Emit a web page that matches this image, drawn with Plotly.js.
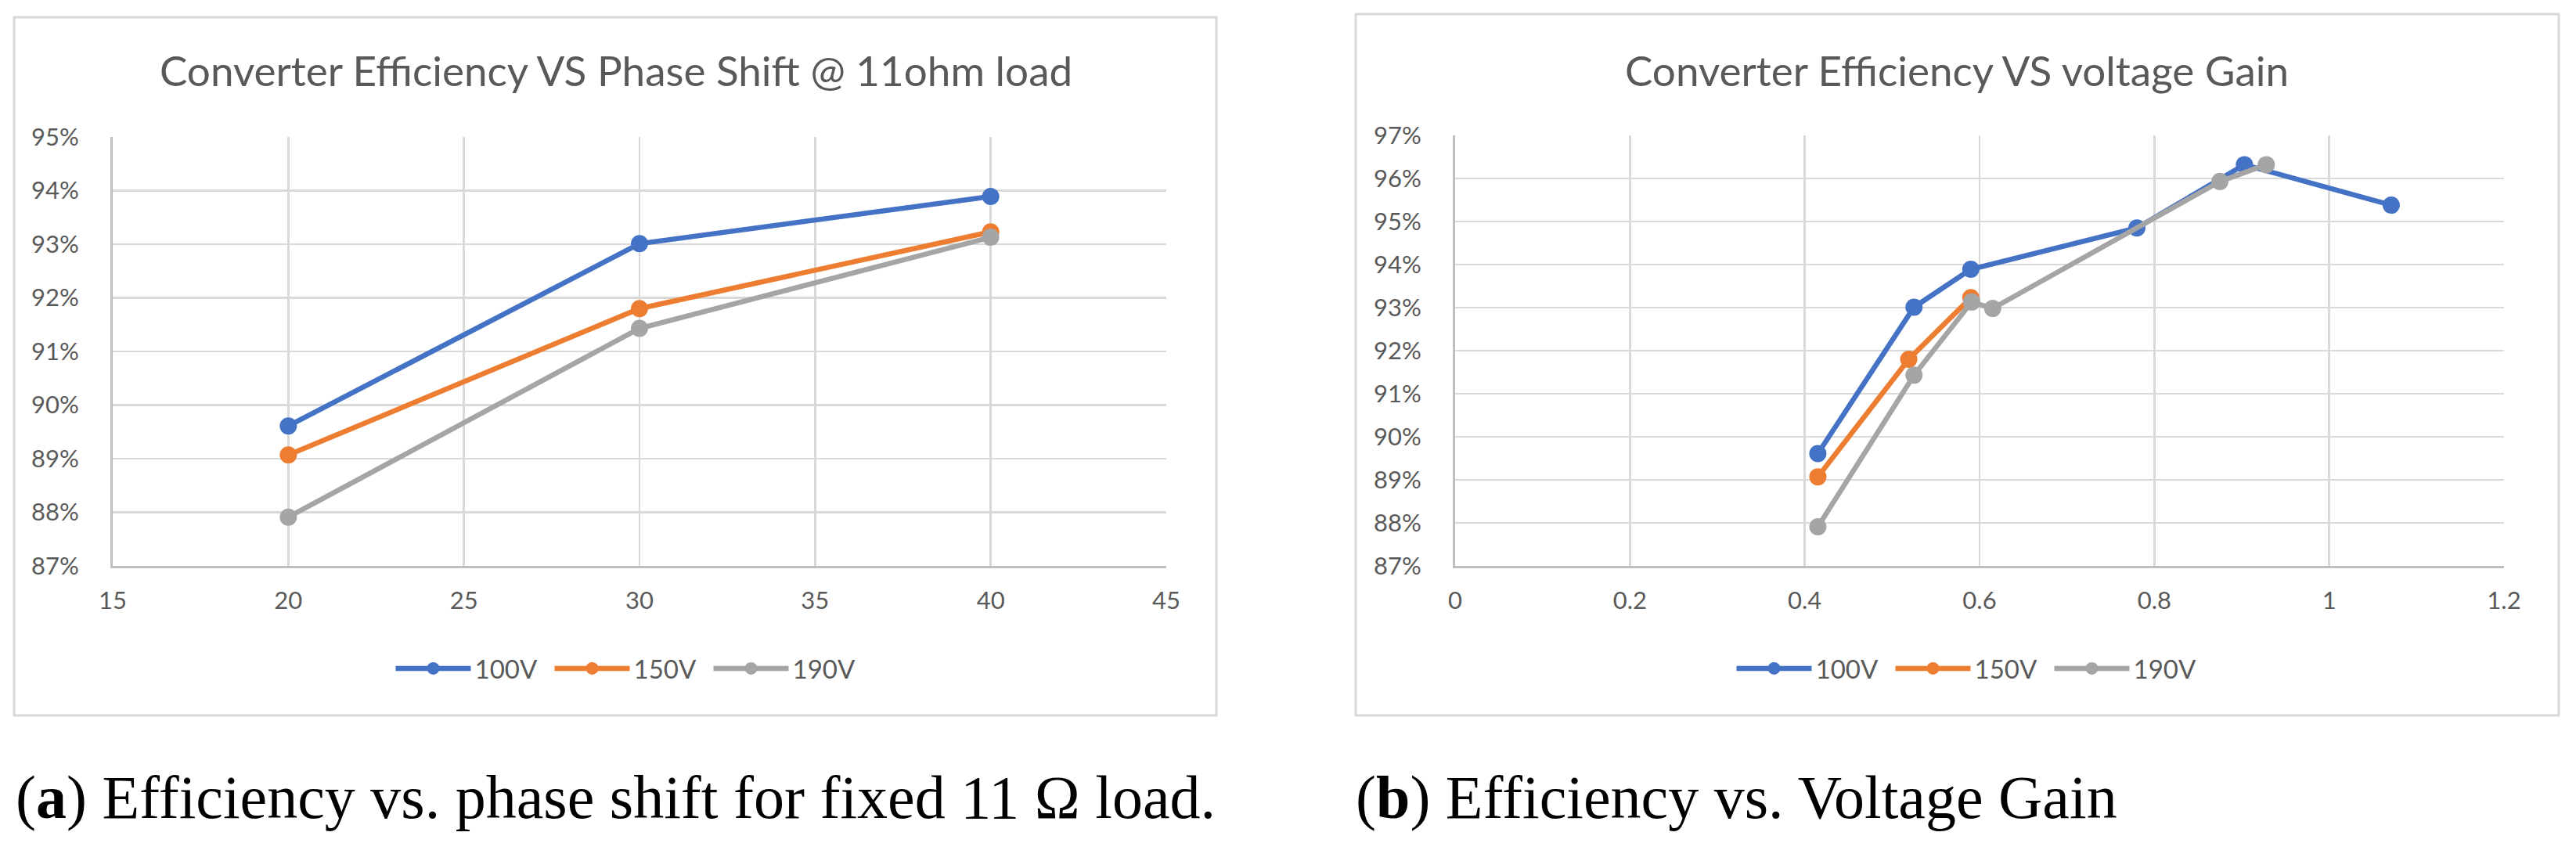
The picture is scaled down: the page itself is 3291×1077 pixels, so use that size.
<!DOCTYPE html>
<html>
<head>
<meta charset="utf-8">
<script src="https://cdn.plot.ly/plotly-3.0.1.min.js"></script>
<style>html,body{margin:0;padding:0;background:#fff;}#chart{width:3291px;height:1077px;}</style>
</head>
<body>
<div id="chart"></div>
<script>
// ---- data ----
const seriesNames = ['100V', '150V', '190V'];
const seriesColors = ['#4472C4', '#ED7D31', '#A5A5A5'];

// (a) efficiency (%) vs phase shift (deg), 11 ohm load
const phaseShift = [20, 30, 40];
const effPhase100 = [89.61, 93.01, 93.89];
const effPhase150 = [89.07, 91.80, 93.23];
const effPhase190 = [87.91, 91.43, 93.13];

// (b) efficiency (%) vs voltage gain
const gain100 = [0.415, 0.525, 0.590, 0.780, 0.903, 1.071];
const effGain100 = [89.61, 93.01, 93.89, 94.85, 96.32, 95.38];
const gain150 = [0.415, 0.519, 0.590];
const effGain150 = [89.07, 91.80, 93.23];
const gain190 = [0.415, 0.525, 0.591, 0.615, 0.875, 0.928];
const effGain190 = [87.91, 91.43, 93.13, 92.98, 95.93, 96.32];

const xTicksA = [15, 20, 25, 30, 35, 40, 45];
const yTicksA = [87, 88, 89, 90, 91, 92, 93, 94, 95];
const yLabelsA = ['87%', '88%', '89%', '90%', '91%', '92%', '93%', '94%', '95%'];
const xTicksB = [0, 0.2, 0.4, 0.6, 0.8, 1, 1.2];
const xLabelsB = ['0', '0.2', '0.4', '0.6', '0.8', '1', '1.2'];
const yTicksB = [87, 88, 89, 90, 91, 92, 93, 94, 95, 96, 97];
const yLabelsB = ['87%', '88%', '89%', '90%', '91%', '92%', '93%', '94%', '95%', '96%', '97%'];

const titleA = 'Converter Efficiency VS Phase Shift @ 11ohm load';
const titleB = 'Converter Efficiency VS voltage Gain';
const captionA = '(<b>a</b>) Efficiency vs. phase shift for fixed 11 Ω load.';
const captionB = '(<b>b</b>) Efficiency vs. Voltage Gain';

// ---- build ----
const W = 3291, H = 1077;
const px = v => v / W;
const py = v => 1 - v / H;
const txtColor = '#595959';
const uiFont = 'Lato, "Open Sans", sans-serif';

function mk(x, y, i, xa, ya, leg) {
  return {
    x: x, y: y, name: seriesNames[i], type: 'scatter', mode: 'lines+markers',
    xaxis: xa, yaxis: ya, legend: leg,
    line: {color: seriesColors[i], width: 6.5},
    marker: {color: seriesColors[i], size: 22},
    hoverinfo: 'skip'
  };
}

const traces = [
  mk(phaseShift, effPhase100, 0, 'x', 'y', 'legend'),
  mk(phaseShift, effPhase150, 1, 'x', 'y', 'legend'),
  mk(phaseShift, effPhase190, 2, 'x', 'y', 'legend'),
  mk(gain100, effGain100, 0, 'x2', 'y2', 'legend2'),
  mk(gain150, effGain150, 1, 'x2', 'y2', 'legend2'),
  mk(gain190, effGain190, 2, 'x2', 'y2', 'legend2')
];

function axisBase(extra) {
  return Object.assign({
    showgrid: true, gridcolor: '#d9d9d9', gridwidth: 2.5,
    showline: true, linecolor: '#bfbfbf', linewidth: 3,
    zeroline: false, ticks: '', fixedrange: true, tickmode: 'array',
    tickfont: {family: uiFont, size: 31, color: txtColor}
  }, extra);
}

const legendBase = {
  orientation: 'h', xanchor: 'center', yanchor: 'middle',
  font: {family: uiFont, size: 33, color: txtColor},
  bgcolor: 'rgba(0,0,0,0)', itemwidth: 96, entrywidth: 92, entrywidthmode: 'pixels',
  itemclick: false, itemdoubleclick: false
};

const layout = {
  width: W, height: H,
  margin: {l: 0, r: 0, t: 0, b: 0},
  paper_bgcolor: '#ffffff', plot_bgcolor: '#ffffff',
  xaxis: axisBase({domain: [px(144), px(1490)], range: [15, 45], tickvals: xTicksA, ticktext: xTicksA.map(String), ticklabelstandoff: 15, anchor: 'y'}),
  yaxis: axisBase({domain: [py(723), py(175)], range: [87, 95], tickvals: yTicksA, ticktext: yLabelsA, ticklabelstandoff: 34, anchor: 'x'}),
  xaxis2: axisBase({domain: [px(1859), px(3199)], range: [0, 1.2], tickvals: xTicksB, ticktext: xLabelsB, ticklabelstandoff: 15, anchor: 'y2'}),
  yaxis2: axisBase({domain: [py(723), py(173)], range: [87, 97], tickvals: yTicksB, ticktext: yLabelsB, ticklabelstandoff: 34, anchor: 'x2'}),
  legend: Object.assign({}, legendBase, {x: px(805), y: py(854)}),
  legend2: Object.assign({}, legendBase, {x: px(2518), y: py(854)}),
  shapes: [
    {type: 'rect', xref: 'paper', yref: 'paper', x0: px(18), x1: px(1554), y0: py(914), y1: py(22), line: {color: '#d9d9d9', width: 3}, layer: 'below'},
    {type: 'rect', xref: 'paper', yref: 'paper', x0: px(1732), x1: px(3269), y0: py(914), y1: py(18), line: {color: '#d9d9d9', width: 3}, layer: 'below'}
  ],
  annotations: [
    {text: titleA, xref: 'paper', yref: 'paper', x: px(787), y: py(90), xanchor: 'center', yanchor: 'middle', showarrow: false, font: {family: uiFont, size: 53, color: txtColor}},
    {text: titleB, xref: 'paper', yref: 'paper', x: px(2500), y: py(89), xanchor: 'center', yanchor: 'middle', showarrow: false, font: {family: uiFont, size: 53, color: txtColor}},
    {text: captionA, xref: 'paper', yref: 'paper', x: px(18), y: py(1018), xanchor: 'left', yanchor: 'middle', showarrow: false, font: {family: '"Liberation Serif", serif', size: 78, color: '#000000'}},
    {text: captionB, xref: 'paper', yref: 'paper', x: px(1730), y: py(1018), xanchor: 'left', yanchor: 'middle', showarrow: false, font: {family: '"Liberation Serif", serif', size: 78, color: '#000000'}}
  ]
};

Plotly.newPlot('chart', traces, layout, {staticPlot: true, displayModeBar: false});
</script>
</body>
</html>
